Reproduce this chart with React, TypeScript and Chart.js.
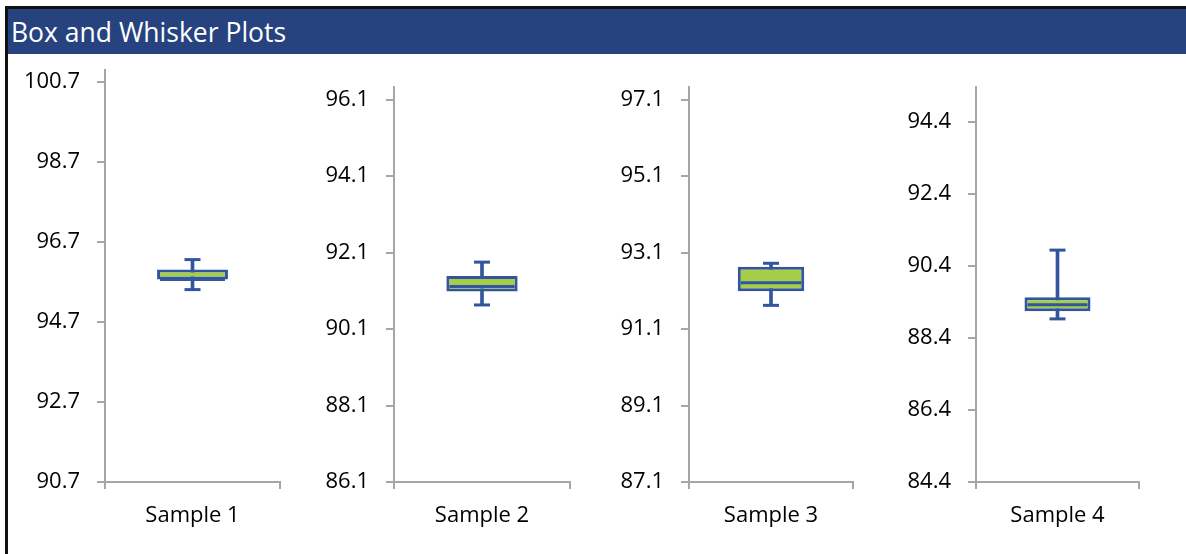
import React, { useEffect, useRef } from "react";
import { Chart, registerables } from "chart.js";

Chart.register(...registerables);

// ---------- data ----------
const samples = ["Sample 1", "Sample 2", "Sample 3", "Sample 4"];
const whiskerMin = [95.51, 90.73, 91.72, 88.93];
const q1 = [95.76, 91.08, 92.09, 89.14];
const median = [95.76, 91.21, 92.31, 89.32];
const q3 = [96.01, 91.49, 92.73, 89.53];
const whiskerMax = [96.26, 91.85, 92.82, 90.84];

const axisMin = [90.7, 86.1, 87.1, 84.4];
const axisMax = [101.0, 96.43, 97.43, 95.37];
const ticksSample1 = [90.7, 92.7, 94.7, 96.7, 98.7, 100.7];
const ticksSample2 = [86.1, 88.1, 90.1, 92.1, 94.1, 96.1];
const ticksSample3 = [87.1, 89.1, 91.1, 93.1, 95.1, 97.1];
const ticksSample4 = [84.4, 86.4, 88.4, 90.4, 92.4, 94.4];
const tickSets = [ticksSample1, ticksSample2, ticksSample3, ticksSample4];

const titleText = "Box and Whisker Plots";

// ---------- styles / layout ----------
const FONT = "'Open Sans', sans-serif";
const BLUE = "#31559F";
const GREEN = "#A6CD48";
const GRAY = "#A6A6A6";
const TITLE_BG = "#264380";
const BOX_FRAC = 0.405;

const panelLayout = [
  { x: 9, w: 281, yw: 96, top: 70 },
  { x: 304, w: 276, yw: 90, top: 87 },
  { x: 599, w: 264, yw: 90, top: 87 },
  { x: 886, w: 263, yw: 90, top: 87 },
];
const CANVAS_TOP = 54;
const CANVAS_H = 500;

function Panel({ i }: { i: number }) {
  const ref = useRef<HTMLCanvasElement>(null);
  const L = panelLayout[i];

  useEffect(() => {
    if (!ref.current) return;
    const medianRadius = (ctx: any) => {
      const a = ctx.chart.chartArea;
      return a ? ((a.right - a.left) * BOX_FRAC) / 2 - 3 : 30;
    };
    const chart = new Chart(ref.current, {
      type: "bar",
      data: {
        labels: [samples[i]],
        datasets: [
          {
            type: "line",
            data: [median[i]],
            showLine: false,
            pointStyle: "line",
            pointRadius: medianRadius,
            pointHoverRadius: medianRadius,
            pointBorderWidth: 3,
            pointBorderColor: BLUE,
            pointBackgroundColor: BLUE,
            order: 0,
          } as any,
          {
            type: "line",
            data: [whiskerMax[i]],
            showLine: false,
            pointStyle: "line",
            pointRadius: 8,
            pointBorderWidth: 3,
            pointBorderColor: BLUE,
            order: 0,
          } as any,
          {
            type: "line",
            data: [whiskerMin[i]],
            showLine: false,
            pointStyle: "line",
            pointRadius: 8,
            pointBorderWidth: 3,
            pointBorderColor: BLUE,
            order: 0,
          } as any,
          {
            type: "bar",
            data: [[q1[i], q3[i]]],
            backgroundColor: GREEN,
            borderColor: BLUE,
            borderWidth: 3,
            borderSkipped: false,
            barPercentage: BOX_FRAC,
            categoryPercentage: 1,
            grouped: false,
            order: 1,
          } as any,
          {
            type: "bar",
            data: [[whiskerMin[i], whiskerMax[i]]],
            backgroundColor: BLUE,
            borderWidth: 0,
            barThickness: 3,
            grouped: false,
            order: 2,
          } as any,
        ],
      },
      options: {
        responsive: false,
        animation: false,
        events: [],
        layout: {
          autoPadding: false,
          padding: { top: L.top - CANVAS_TOP, right: 10, left: 0, bottom: 0 },
        },
        plugins: {
          legend: { display: false },
          tooltip: { enabled: false },
          title: { display: false },
        },
        scales: {
          x: {
            type: "category",
            offset: true,
            grid: {
              display: true,
              offset: true,
              drawOnChartArea: false,
              drawTicks: true,
              tickLength: 7,
              color: GRAY,
              lineWidth: 2,
            },
            border: { display: true, color: GRAY, width: 2 },
            ticks: {
              font: { family: FONT, size: 22 },
              color: "#000",
              padding: 14,
              maxRotation: 0,
            },
            afterFit: (s: any) => {
              s.height = 72;
              s.paddingLeft = 0;
              s.paddingRight = 0;
            },
          },
          y: {
            type: "linear",
            min: axisMin[i],
            max: axisMax[i],
            afterBuildTicks: (s: any) => {
              s.ticks = tickSets[i].map((v) => ({ value: v }));
            },
            ticks: {
              callback: (v: any) => Number(v).toFixed(1),
              font: { family: FONT, size: 22 },
              color: "#000",
              padding: 17,
            },
            grid: {
              drawOnChartArea: false,
              drawTicks: true,
              tickLength: 8,
              color: GRAY,
              lineWidth: 2,
            },
            border: { display: true, color: GRAY, width: 2 },
            afterFit: (s: any) => {
              s.width = L.yw;
              s.paddingTop = 0;
              s.paddingBottom = 0;
            },
          },
        },
      } as any,
    });
    return () => chart.destroy();
  }, [i]);

  return (
    <canvas
      ref={ref}
      width={L.w}
      height={CANVAS_H}
      style={{
        position: "absolute",
        left: L.x,
        top: CANVAS_TOP,
        width: L.w,
        height: CANVAS_H,
      }}
    />
  );
}

export default function App() {
  return (
    <div
      style={{
        position: "fixed",
        left: 0,
        top: 0,
        width: 1186,
        height: 554,
        background: "#fff",
        overflow: "hidden",
      }}
    >
      <div
        style={{
          position: "absolute",
          left: 5,
          top: 6,
          width: 1181,
          height: 548,
          borderLeft: "3px solid #111",
          borderTop: "3px solid #111",
          boxSizing: "border-box",
        }}
      />
      <div
        style={{
          position: "absolute",
          left: 8,
          top: 9,
          width: 1178,
          height: 45,
          background: TITLE_BG,
          color: "#fff",
          fontFamily: FONT,
          fontSize: 26.5,
          lineHeight: "47px",
          paddingLeft: 3,
          boxSizing: "border-box",
          whiteSpace: "nowrap",
          overflow: "hidden",
        }}
      >
        {titleText}
      </div>
      {samples.map((_, i) => (
        <Panel key={i} i={i} />
      ))}
    </div>
  );
}
